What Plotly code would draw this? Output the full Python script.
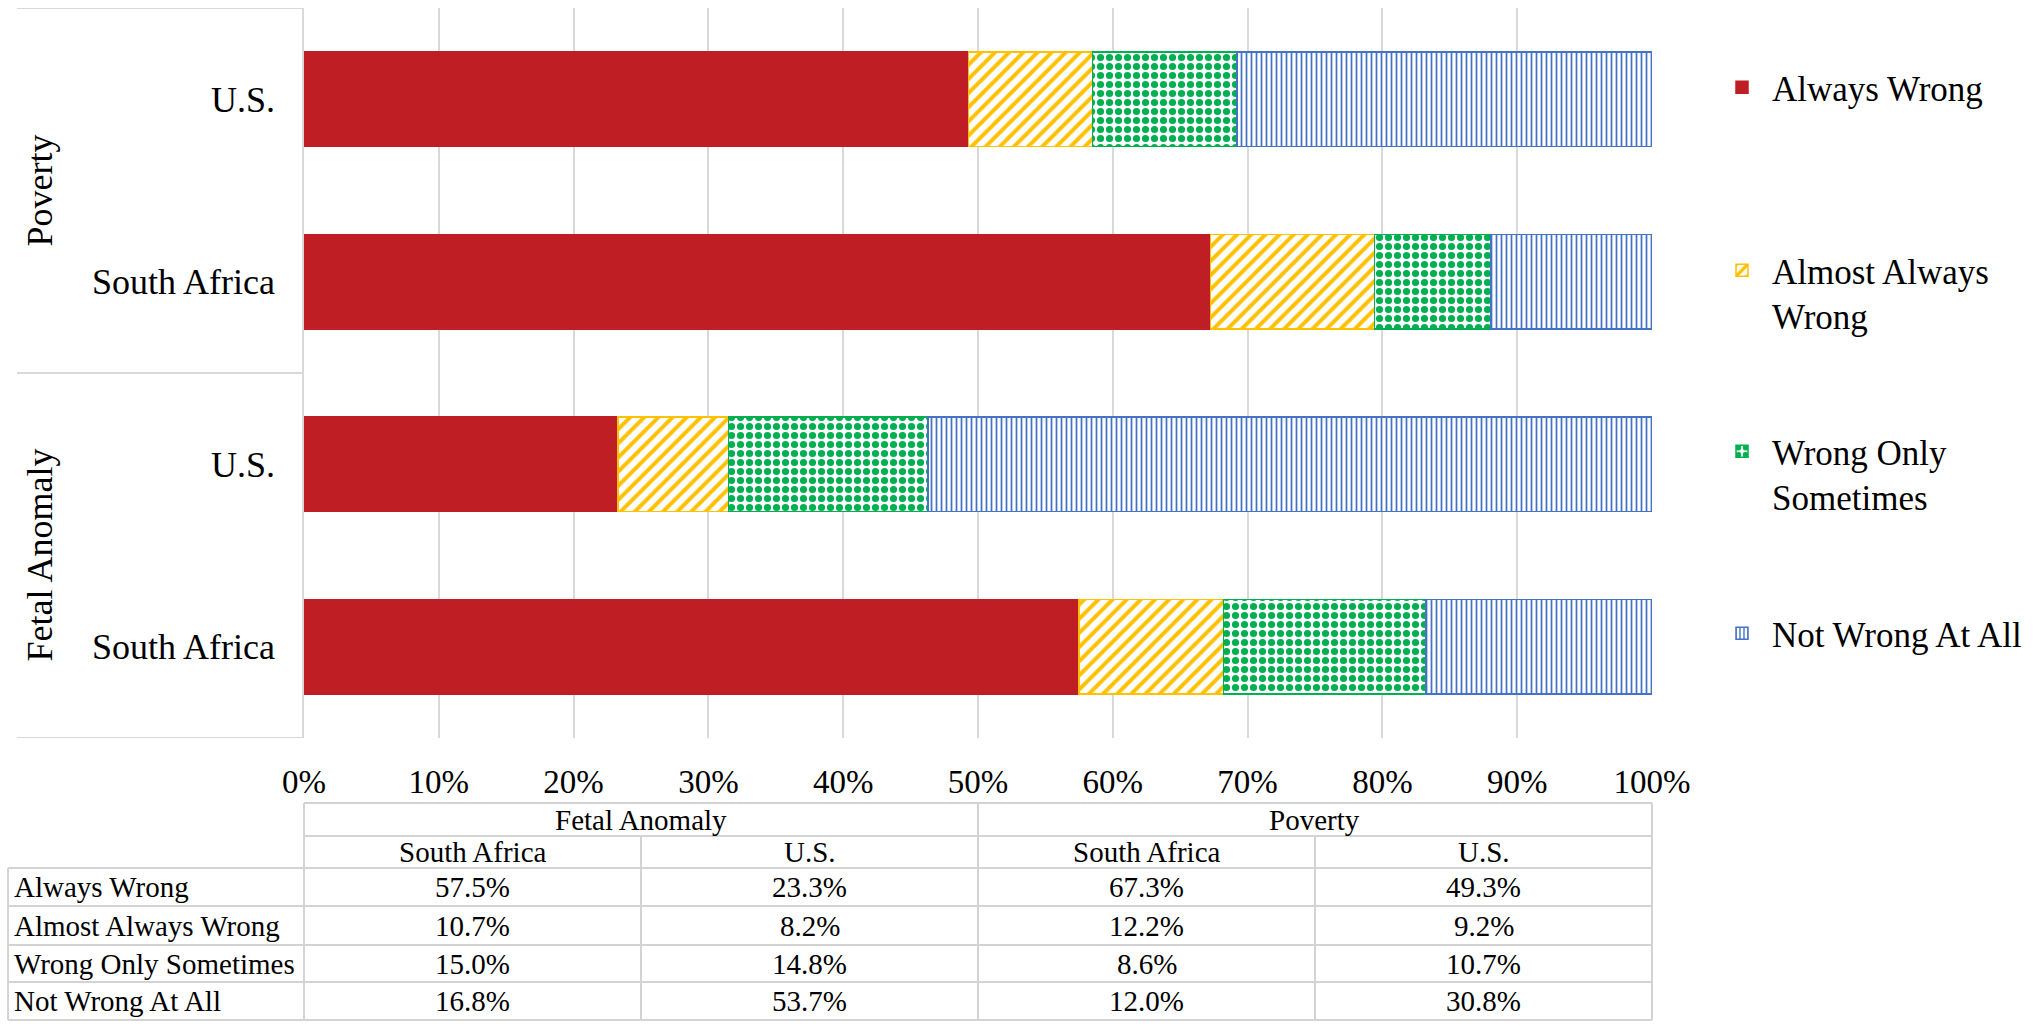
import plotly.graph_objects as go

# ---------------- data ----------------
series_names = ["Always Wrong", "Almost Always Wrong", "Wrong Only Sometimes", "Not Wrong At All"]
legend_labels = ["Always Wrong", "Almost Always<br>Wrong", "Wrong Only<br>Sometimes", "Not Wrong At All"]
groups = ["Fetal Anomaly", "Fetal Anomaly", "Poverty", "Poverty"]
countries = ["South Africa", "U.S.", "South Africa", "U.S."]
always_wrong = [57.5, 23.3, 67.3, 49.3]
almost_always_wrong = [10.7, 8.2, 12.2, 9.2]
wrong_only_sometimes = [15.0, 14.8, 8.6, 10.7]
not_wrong_at_all = [16.8, 53.7, 12.0, 30.8]
x_ticks = [0, 10, 20, 30, 40, 50, 60, 70, 80, 90, 100]
x_tick_labels = [f"{v}%" for v in x_ticks]

series_values = [always_wrong, almost_always_wrong, wrong_only_sometimes, not_wrong_at_all]

# ---------------- style ----------------
W, H = 2040, 1029
FONT = "Liberation Serif"
GRID = "#D9D9D9"
TABLE_LINE = "#D3D3D3"
colors = ["#BE1E24", "#FFC000", "#00B050", "#4472C4"]
patterns = [
    dict(shape=""),
    dict(shape="/", size=10, solidity=0.4, fgcolor="#FFC000", bgcolor="white"),
    dict(shape=".", size=9, solidity=0.5, fgcolor="#00B050", bgcolor="white"),
    dict(shape="|", size=5, solidity=0.35, fgcolor="#4472C4", bgcolor="white"),
]

def py(p):
    return 1 - p / H

def px(p):
    return p / W

x_left, x_right = px(304), px(1652)
y_bottom, y_top = py(738), py(8)

keys = [f"{g}|{c}" for g, c in zip(groups, countries)]

fig = go.Figure()
legend_ids = ["legend", "legend2", "legend3", "legend4"]
for i, (name, vals) in enumerate(zip(series_names, series_values)):
    marker = dict(color=colors[i] if i == 0 else "white",
                  line=dict(color=colors[i], width=1.5))
    if i > 0:
        marker["pattern"] = dict(fillmode="overlay", fgopacity=1, **patterns[i])
    fig.add_trace(go.Bar(
        y=keys, x=vals, orientation="h", name=legend_labels[i],
        marker=marker, legend=legend_ids[i],
        hovertemplate=name + ": %{x}%<extra></extra>",
    ))

# legends, one per series to reproduce the spacing
legend_marker_y = [90, 273, 454, 636]
layout_legends = {}
for lid, ymk in zip(legend_ids, legend_marker_y):
    layout_legends[lid] = dict(
        x=px(1712), y=py(ymk - 32), xanchor="left", yanchor="top",
        valign="top", bgcolor="rgba(0,0,0,0)",
        font=dict(family=FONT, size=35, color="black"),
        itemwidth=50,
    )

fig.update_layout(
    width=W, height=H,
    margin=dict(l=0, r=0, t=0, b=0, autoexpand=False),
    paper_bgcolor="white", plot_bgcolor="white",
    barmode="stack", barnorm="percent", bargap=0.48,
    font=dict(family=FONT, color="black"),
    showlegend=True,
    **layout_legends,
)
fig.update_xaxes(
    domain=[x_left, x_right], range=[0, 100], automargin=False,
    tickvals=x_ticks, ticktext=x_tick_labels,
    showgrid=True, gridcolor=GRID, gridwidth=1.5, zeroline=False,
    ticks="outside", ticklen=14, tickcolor="rgba(0,0,0,0)",
    tickfont=dict(family=FONT, size=33, color="black"),
    showline=False,
)
fig.update_yaxes(
    domain=[y_bottom, y_top], type="category", automargin=False,
    categoryorder="array", categoryarray=keys, range=[-0.5, 3.5],
    tickvals=keys, ticktext=countries,
    ticks="outside", ticklen=20, tickcolor="rgba(0,0,0,0)",
    tickfont=dict(family=FONT, size=36, color="black"),
    showline=True, linecolor=GRID, linewidth=1.5, showgrid=False,
)

# group labels and dividers on the category axis
group_names = ["Fetal Anomaly", "Poverty"]
for gi, gname in enumerate(group_names):
    fig.add_annotation(
        x=px(39), xref="paper", y=gi * 2 + 0.5, yref="y",
        text=gname, textangle=-90, showarrow=False,
        font=dict(family=FONT, size=36, color="black"),
        xanchor="center", yanchor="middle",
    )
for yv in [-0.5, 1.5, 3.5]:
    fig.add_shape(type="line", xref="paper", yref="y",
                  x0=px(17), x1=x_left, y0=yv, y1=yv,
                  line=dict(color=GRID, width=2))

# ---------------- data table ----------------
col_bounds = [x_left + (x_right - x_left) * k / 4 for k in range(5)]
row_y = [803, 836, 868, 906, 945, 982, 1020]
tl_left = px(8)
lw = dict(color=TABLE_LINE, width=2)
# horizontal lines
for j, yy in enumerate(row_y):
    x0 = x_left if j < 2 else tl_left
    fig.add_shape(type="line", xref="paper", yref="paper",
                  x0=x0, x1=x_right, y0=py(yy), y1=py(yy), line=lw)
# vertical lines
fig.add_shape(type="line", xref="paper", yref="paper", x0=tl_left, x1=tl_left,
              y0=py(row_y[2]), y1=py(row_y[-1]), line=lw)
for k in [0, 2, 4]:
    fig.add_shape(type="line", xref="paper", yref="paper", x0=col_bounds[k], x1=col_bounds[k],
                  y0=py(row_y[0]), y1=py(row_y[-1]), line=lw)
for k in [1, 3]:
    fig.add_shape(type="line", xref="paper", yref="paper", x0=col_bounds[k], x1=col_bounds[k],
                  y0=py(row_y[1]), y1=py(row_y[-1]), line=lw)

tfont = dict(family=FONT, size=29, color="black")
# group headers
for gi, gname in enumerate(group_names):
    fig.add_annotation(x=(col_bounds[2 * gi] + col_bounds[2 * gi + 2]) / 2, xref="paper",
                       y=py((row_y[0] + row_y[1]) / 2), yref="paper",
                       text=gname, showarrow=False, font=tfont,
                       xanchor="center", yanchor="middle")
# country headers
for ci, cname in enumerate(countries):
    fig.add_annotation(x=(col_bounds[ci] + col_bounds[ci + 1]) / 2, xref="paper",
                       y=py((row_y[1] + row_y[2]) / 2), yref="paper",
                       text=cname, showarrow=False, font=tfont,
                       xanchor="center", yanchor="middle")
# data rows
for ri, (name, vals) in enumerate(zip(series_names, series_values)):
    yc = py((row_y[2 + ri] + row_y[3 + ri]) / 2)
    fig.add_annotation(x=px(12), xref="paper", y=yc, yref="paper",
                       text=name, showarrow=False, font=tfont,
                       xanchor="left", yanchor="middle")
    for ci, v in enumerate(vals):
        fig.add_annotation(x=(col_bounds[ci] + col_bounds[ci + 1]) / 2, xref="paper",
                           y=yc, yref="paper", text=f"{v:.1f}%", showarrow=False,
                           font=tfont, xanchor="center", yanchor="middle")

fig.write_html("out.html", config={"displayModeBar": False},
               post_script="document.body.style.margin='0';document.body.style.overflow='hidden';")
